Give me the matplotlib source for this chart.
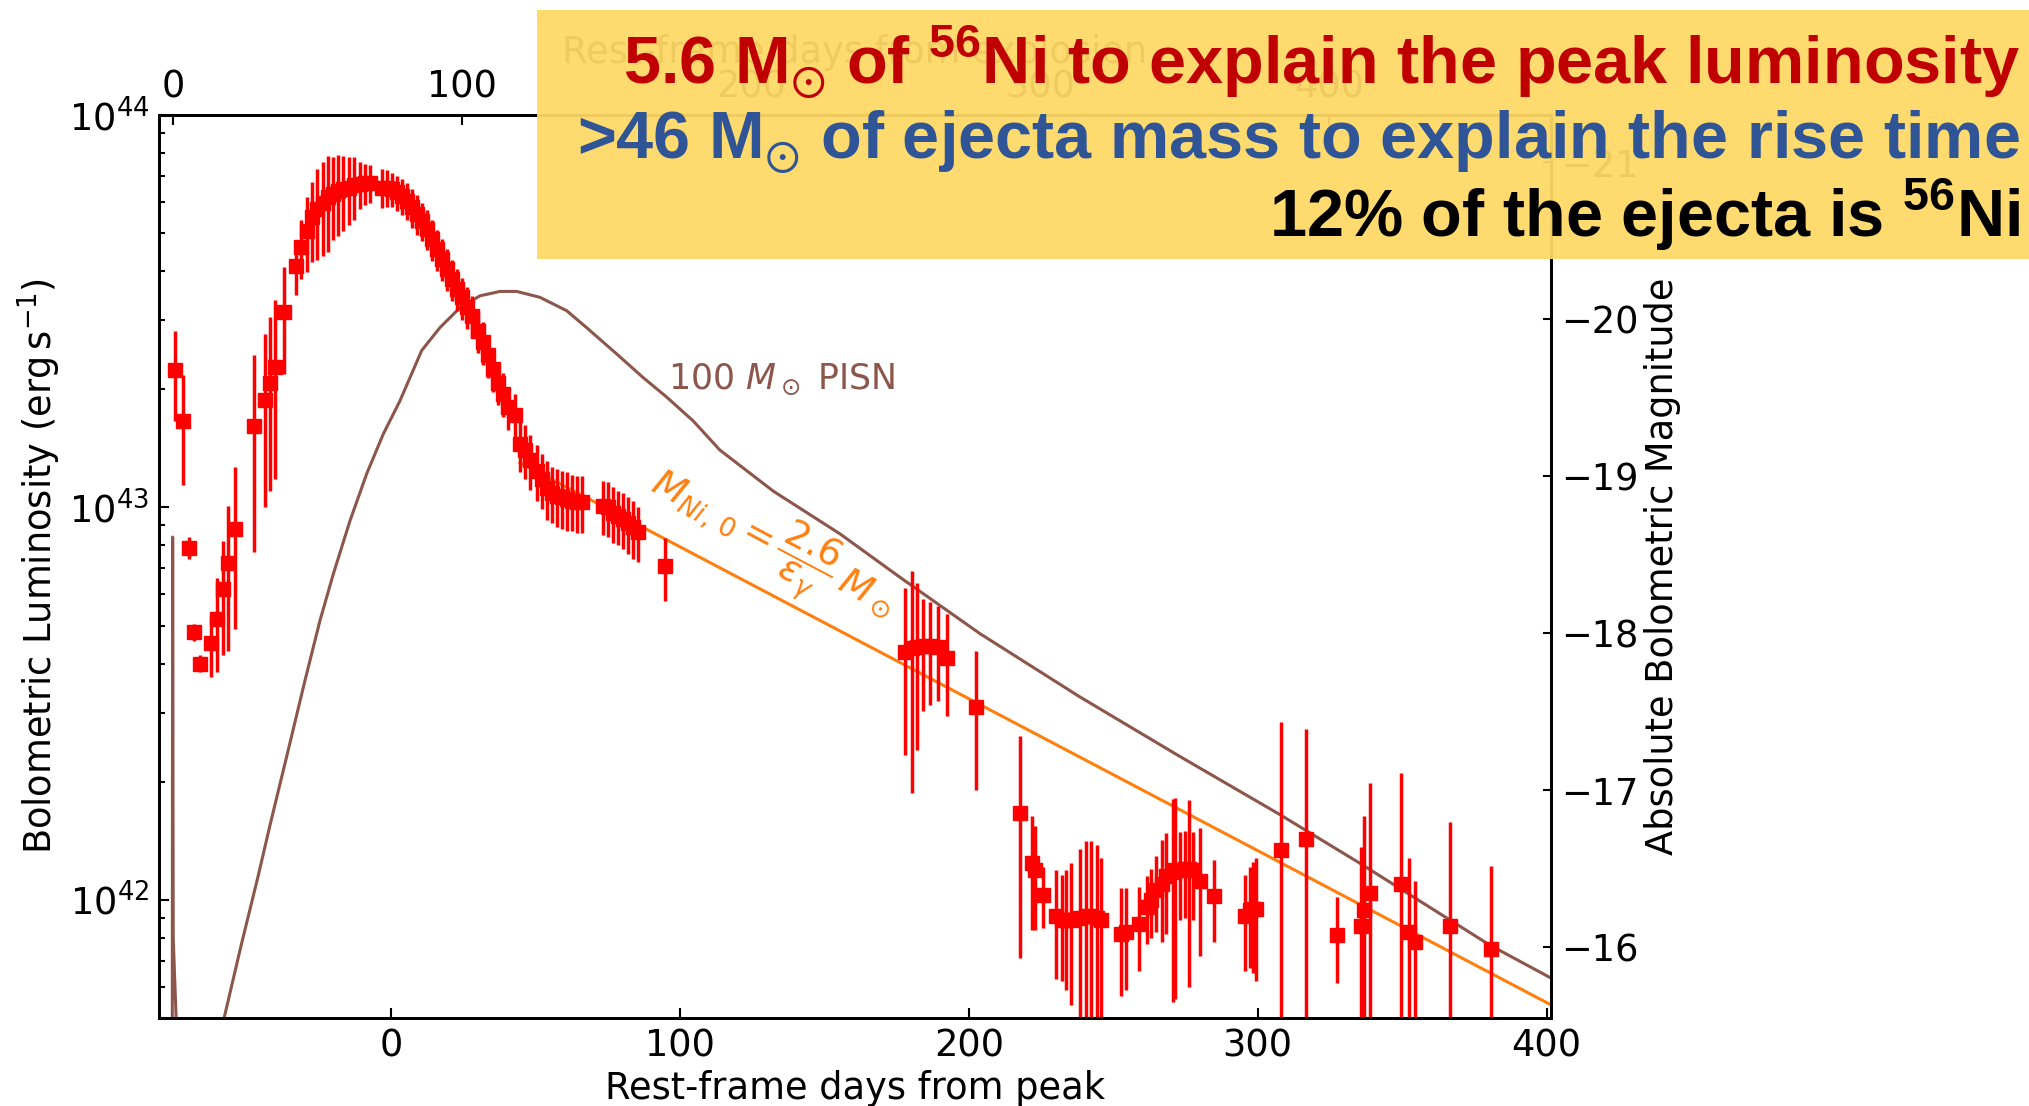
import numpy as np
import matplotlib.pyplot as plt
from matplotlib.patches import Rectangle

plt.rcParams['font.family'] = 'DejaVu Sans'
plt.rcParams['mathtext.fontset'] = 'dejavusans'
# used only by the banner text (math_fontfamily='custom')
plt.rcParams['mathtext.rm'] = 'Liberation Sans:bold'
plt.rcParams['mathtext.bf'] = 'Liberation Sans:bold'
plt.rcParams['mathtext.fallback'] = 'stixsans'

# bolometric light curve: rest-frame days from peak, L and error in 1e42 erg/s
days = [-74.7, -71.9, -69.9, -68.1, -66.1, -62.3, -60.3, -58.2, -56.3, -54.0,
        -47.6, -43.6, -41.9, -40.1, -36.9, -33.0, -31.1, -29.2, -27.2, -25.7,
        -23.6, -21.7, -20.0, -18.2, -16.5, -14.5, -12.8, -10.7, -9.0, -7.3,
        -3.2, -1.5, 0.2, 2.0, 3.7, 5.4, 7.2, 8.9, 10.6, 12.3,
        14.1, 15.8, 17.5, 19.3, 21.0, 22.7, 24.5, 26.2, 27.9, 30.2,
        31.9, 33.7, 35.4, 37.1, 38.9, 40.6, 42.9,
        44.6, 46.4, 48.1, 50.4, 52.1, 53.9, 55.6, 57.3, 59.1, 60.8, 62.5, 64.3, 66.0,
        73.5, 75.2, 76.9, 78.7, 80.4, 82.1, 83.9, 85.6, 94.8,
        177.9, 180.2, 181.9, 184.0, 186.5, 189.4, 192.6, 202.5, 217.6, 221.7,
        222.8, 225.7, 230.3, 232.1, 233.8, 235.5, 238.4, 240.7, 242.4, 244.2,
        245.9, 252.8, 254.5, 258.9, 261.5, 263.2, 264.9, 266.7, 268.4, 270.5,
        271.3, 273.0, 274.7, 276.2, 277.6, 279.9, 284.9, 295.7, 297.2, 298.4,
        299.5, 308.2, 316.8, 327.4, 335.9, 336.9, 338.9, 349.6, 352.3, 354.6,
        366.5, 380.8]
lum = [22.4, 16.6, 7.9, 4.8, 4.0, 4.5, 5.2, 6.2, 7.2, 8.8,
       16.1, 18.8, 20.8, 22.8, 31.4, 41.3, 46.0, 50.7, 54.8, 57.6,
       59.8, 61.7, 62.9, 64.1, 64.7, 65.3, 66.1, 66.7, 67.0, 67.0,
       65.3, 65.3, 64.7, 63.5, 62.2, 60.4, 58.1, 55.9, 53.8, 51.2,
       48.3, 45.5, 43.0, 40.5, 38.2, 36.1, 34.3, 32.4, 30.8, 28.2,
       26.4, 24.4, 22.5, 20.8, 19.5, 18.0, 17.2,
       14.5, 14.0, 13.2, 12.4, 11.8, 11.2, 10.9, 10.7, 10.6, 10.5, 10.4, 10.3, 10.3,
       10.1, 10.0, 9.7, 9.5, 9.35, 9.1, 8.9, 8.65, 7.07,
       4.29, 4.37, 4.41, 4.43, 4.43, 4.41, 4.14, 3.10, 1.66, 1.24,
       1.19, 1.03, 0.91, 0.89, 0.89, 0.89, 0.90, 0.91, 0.91, 0.90,
       0.89, 0.82, 0.83, 0.87, 0.96, 1.00, 1.06, 1.10, 1.15, 1.18,
       1.19, 1.19, 1.20, 1.20, 1.19, 1.12, 1.02, 0.91, 0.94, 0.95,
       0.95, 1.34, 1.43, 0.815, 0.86, 0.94, 1.04, 1.10, 0.83, 0.78,
       0.86, 0.75]
lum_err = [5.8, 5.2, 0.5, 0.23, 0.2, 0.8, 1.4, 2.0, 2.9, 3.9,
           8.4, 8.8, 9.8, 11.0, 9.5, 6.6, 7.9, 11.0, 12.5, 15.0,
           16.0, 17.0, 15.0, 15.0, 14.0, 13.0, 12.0, 9.0, 8.0, 7.5,
           7.5, 7.0, 6.5, 6.5, 6.5, 6.5, 6.5, 6.5, 6.0, 6.0,
           5.8, 5.5, 5.2, 5.0, 4.6, 4.4, 4.2, 4.0, 3.8, 3.5,
           3.3, 3.0, 2.8, 2.6, 2.5, 2.3, 2.2,
           2.2, 2.2, 2.1, 2.0, 1.9, 1.9, 1.8, 1.8, 1.8, 1.8, 1.7, 1.7, 1.7,
           1.6, 1.6, 1.6, 1.5, 1.5, 1.5, 1.5, 1.4, 1.3,
           1.95, 2.5, 2.0, 1.4, 1.3, 1.2, 1.2, 1.2, 0.95, 0.40,
           0.35, 0.18, 0.28, 0.27, 0.30, 0.35, 0.45, 0.50, 0.50, 0.48,
           0.39, 0.25, 0.24, 0.21, 0.19, 0.20, 0.23, 0.32, 0.33, 0.63,
           0.63, 0.30, 0.30, 0.60, 0.30, 0.40, 0.24, 0.25, 0.27, 0.30,
           0.33, 1.5, 1.3, 0.20, 0.50, 0.70, 0.95, 1.0, 0.45, 0.34,
           0.72, 0.47]

# 100 Msun pair-instability model
pisn_days = [-75.8, -75.6, -75.4, -74.4, -73.5, -62.0, -57.4, -52.0, -46.0, -41.9,
             -36.0, -29.8, -24.6, -19.95, -14.2, -8.4, -2.65, 3.1, 10.6, 16.9,
             23.9, 30.8, 37.7, 43.5, 51.5, 60.8, 67.7, 78.1, 87.3, 95.4,
             104.6, 113.8, 132.3, 155.4, 176.1, 203.8, 238.4, 273.0, 307.6, 335.3,
             380.3, 401.5]
pisn_lum = [0.1, 8.4, 0.8, 0.5, 0.3, 0.37, 0.514, 0.76, 1.15, 1.55,
            2.34, 3.62, 5.15, 6.78, 9.25, 12.2, 15.4, 18.7, 25.1, 28.7,
            32.3, 34.6, 35.5, 35.5, 34.3, 31.7, 28.7, 24.6, 21.4, 19.1,
            16.6, 14.0, 11.0, 8.56, 6.64, 4.77, 3.29, 2.32, 1.65, 1.24,
            0.767, 0.632]

# 56Co tail for 2.6/eps_gamma Msun of nickel
tail_days = [44.6, 401.5]
tail_lum = [13.0, 0.54]

t_explosion = -75.4
x_lim = (-80.3, 401.5)
y_lim = (5e41, 1e44)
L_zero = 3.0128e35  # erg/s, zero point of M_bol


def to_mag(L):
    return -2.5 * np.log10(L / L_zero)


fig = plt.figure(figsize=(20.29, 11.06), dpi=100)
ax = fig.add_axes([0.0784, 0.0796, 0.6860, 0.8165])

ax.errorbar(days, np.array(lum) * 1e42, yerr=np.array(lum_err) * 1e42,
            fmt='s', color='red', ms=10, elinewidth=2.5, capsize=0, zorder=3)
ax.plot(pisn_days, np.array(pisn_lum) * 1e42, color='#8c564b', lw=2.2, zorder=2)
ax.plot(tail_days, np.array(tail_lum) * 1e42, color='#ff7f0e', lw=2.2, zorder=2)

ax.set_yscale('log')
ax.set_xlim(*x_lim)
ax.set_ylim(*y_lim)
ax.set_xticks([0, 100, 200, 300, 400])

ax.text(96.0, 2.0e43, r'100 $M_\odot$ PISN', color='#8c564b', fontsize=25,
        ha='left', va='baseline')
ax.text(89.0, 1.10e43, r'$M_{Ni,\,0} = \dfrac{2.6}{\varepsilon_\gamma}\,M_\odot$',
        color='#ff7f0e', fontsize=27, rotation=-27.8, rotation_mode='anchor',
        ha='left', va='baseline')

ax.set_xlabel('Rest-frame days from peak', fontsize=26.5)
ax.set_ylabel(r'Bolometric Luminosity (${\rm erg\,s^{-1}}$)', fontsize=26.5)

ax.tick_params(which='both', direction='in', labelsize=26.5, pad=7, width=1.5,
               top=False, right=False)
ax.tick_params(which='major', length=7)
ax.tick_params(which='minor', length=4)
for sp in ax.spines.values():
    sp.set_linewidth(2)

top = ax.secondary_xaxis('top', functions=(lambda d: d - t_explosion,
                                           lambda d: d + t_explosion))
top.set_xticks([0, 100, 200, 300, 400])
top.tick_params(direction='in', labelsize=26.5, pad=7, length=7, width=1.5)
top.set_xlabel('Rest-frame days from explosion', fontsize=26.5)

ax2 = ax.twinx()
ax2.set_ylim(to_mag(y_lim[0]), to_mag(y_lim[1]))
ax2.set_yticks([-21, -20, -19, -18, -17, -16])
ax2.tick_params(direction='in', labelsize=26.5, pad=7, length=6, width=1.5)
ax2.set_ylabel('Absolute Bolometric Magnitude', fontsize=26.5)
for sp in ax2.spines.values():
    sp.set_linewidth(2)

# summary banner
fig.add_artist(Rectangle((537 / 2029, 1 - 259 / 1106), 1 - 537 / 2029, 249 / 1106,
                         transform=fig.transFigure, facecolor='#FFD966',
                         edgecolor='none', alpha=0.94, zorder=10))
banner = [
    (r'5.6 M$_{\odot}$ of $^{56}$Ni to explain the peak luminosity', '#C00000', 0.924),
    (r'>46 M$_{\odot}$ of ejecta mass to explain the rise time', '#2F5597', 0.857),
    (r'12% of the ejecta is $^{56}$Ni', 'black', 0.786),
]
for txt, col, yy in banner:
    fig.text(0.9956, yy, txt, color=col, fontsize=48, fontfamily='Liberation Sans',
             fontweight='bold', math_fontfamily='custom', ha='right', va='baseline',
             zorder=11)

fig.savefig('out.png', dpi=100)
